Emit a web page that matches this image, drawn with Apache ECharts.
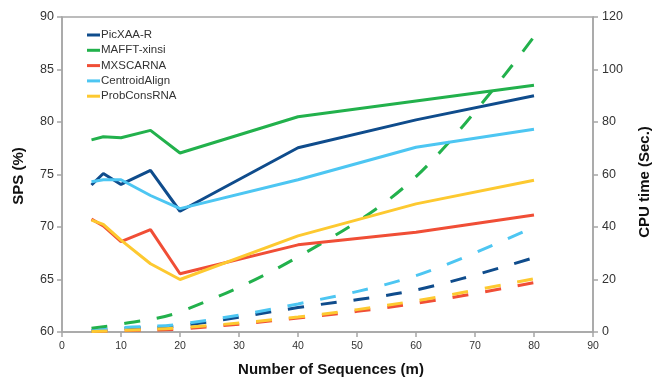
<!DOCTYPE html>
<html><head><meta charset="utf-8">
<script src="https://cdn.jsdelivr.net/npm/echarts@6/dist/echarts.min.js"></script>
<style>html,body{margin:0;padding:0;background:#fff}#c{width:653px;height:379px}</style>
</head><body><div id="c"></div>
<script>
const names = ['PicXAA-R','MAFFT-xinsi','MXSCARNA','CentroidAlign','ProbConsRNA'];
const colors = ['#0f4c8c','#22b14c','#f04e36','#4dc6f2','#fdc930'];
const spsX = [5,7,10,15,20,40,60,80];
const spsPicXAA = [74.0,75.1,74.05,75.4,71.5,77.55,80.2,82.5];
const spsMAFFT = [78.3,78.6,78.5,79.2,77.05,80.5,82.0,83.5];
const spsMXSCARNA = [70.75,70.1,68.6,69.75,65.55,68.3,69.5,71.15];
const spsCentroid = [74.3,74.5,74.5,73.0,71.75,74.5,77.6,79.3];
const spsProbCons = [70.65,70.25,68.75,66.5,65.0,69.15,72.2,74.45];
const cpuX = [5,10,20,40,60,80];
const cpuPicXAA = [0.5,1.3,2.4,9.3,16.0,28.3];
const cpuMAFFT = [1.4,3.0,7.7,28.6,59.2,112.5];
const cpuMXSCARNA = [0.2,0.5,1.1,5.3,10.9,18.8];
const cpuCentroid = [0.4,1.6,3.0,10.7,21.5,40.0];
const cpuProbCons = [0.2,0.6,1.6,5.7,11.9,20.3];
const xTitle = 'Number of Sequences (m)';
const yTitle = 'SPS (%)';
const y2Title = 'CPU time (Sec.)';

const spsAll = [spsPicXAA,spsMAFFT,spsMXSCARNA,spsCentroid,spsProbCons];
const cpuAll = [cpuPicXAA,cpuMAFFT,cpuMXSCARNA,cpuCentroid,cpuProbCons];
const zip = (xs, ys) => xs.map((x,i)=>[x,ys[i]]);
const series = [];
cpuAll.forEach((d,i)=>series.push({
  name: names[i]+' CPU', type:'line', yAxisIndex:1, data: zip(cpuX,d),
  showSymbol:false, smooth:0.35, lineStyle:{color:colors[i], width:3, type:[16,17]}, itemStyle:{color:colors[i]}, z:2
}));
spsAll.forEach((d,i)=>series.push({
  name: names[i], type:'line', yAxisIndex:0, data: zip(spsX,d),
  showSymbol:false, lineStyle:{color:colors[i], width:3}, itemStyle:{color:colors[i]}, z:3
}));
const axisGrey = '#a6a6a6';
const FF = 'Liberation Sans, Arial, sans-serif';
const titleStyle = (t)=>({text:t, font:'bold 15px '+FF, fill:'#111', align:'center', verticalAlign:'middle', textAlign:'center', textVerticalAlign:'middle'});
const chart = echarts.init(document.getElementById('c'), null, {renderer:'canvas'});
chart.setOption({
  animation:false,
  grid:{left:62, right:60, top:17, bottom:47, show:true, borderColor:axisGrey, borderWidth:1.5, backgroundColor:'transparent'},
  legend:{
    data:names, orient:'vertical', left:87, top:29, padding:0, itemGap:3.3, itemWidth:13, itemHeight:3,
    icon:'rect', textStyle:{fontFamily:FF, fontSize:11.5, color:'#333', padding:[0,0,0,-4]}
  },
  graphic:[
    {type:'text', x:331, y:370, style:titleStyle(xTitle)},
    {type:'text', x:19, y:176, rotation:Math.PI/2, style:titleStyle(yTitle)},
    {type:'text', x:645, y:182, rotation:Math.PI/2, style:titleStyle(y2Title)}
  ],
  xAxis:{
    type:'value', min:0, max:90, interval:10,
    axisLine:{lineStyle:{color:axisGrey, width:1.5}},
    axisTick:{show:true, length:5, lineStyle:{color:axisGrey, width:1.5}},
    axisLabel:{fontFamily:FF, fontSize:10.5, color:'#333', margin:9},
    splitLine:{show:false}
  },
  yAxis:[{
    type:'value', min:60, max:90, interval:5,
    axisLine:{show:true, lineStyle:{color:axisGrey, width:1.5}},
    axisTick:{show:true, length:5, lineStyle:{color:axisGrey, width:1.5}},
    axisLabel:{fontFamily:FF, fontSize:12.5, color:'#333', margin:8},
    splitLine:{show:false}
  },{
    type:'value', min:0, max:120, interval:20, position:'right',
    axisLine:{show:true, lineStyle:{color:axisGrey, width:1.5}},
    axisTick:{show:true, length:5, lineStyle:{color:axisGrey, width:1.5}},
    axisLabel:{fontFamily:FF, fontSize:12.5, color:'#333', margin:9},
    splitLine:{show:false}
  }],
  series
});
</script></body></html>
